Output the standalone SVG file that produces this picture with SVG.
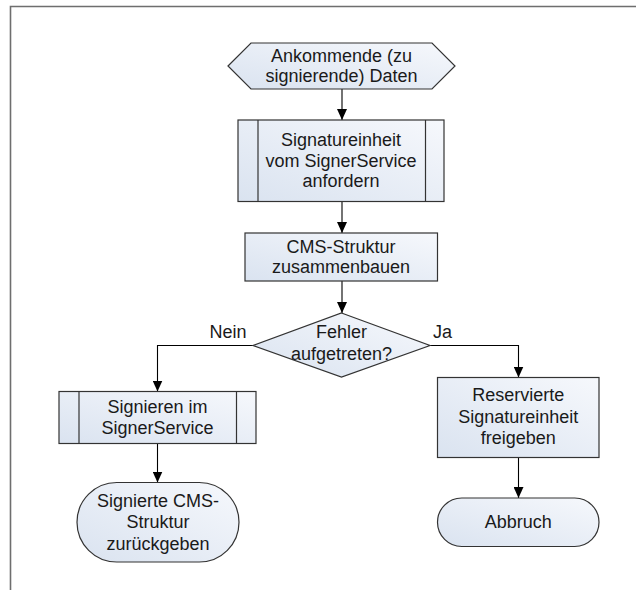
<svg xmlns="http://www.w3.org/2000/svg" width="636" height="590" viewBox="0 0 636 590">
<defs>
<linearGradient id="fill" x1="0" y1="1" x2="1" y2="0">
<stop offset="0" stop-color="#dae3f0"/>
<stop offset="1" stop-color="#f6f8fc"/>
</linearGradient>
<marker id="arr" markerUnits="userSpaceOnUse" markerWidth="11" markerHeight="10" refX="11" refY="5" orient="auto">
<path d="M0,0 L11,5 L0,10 z" fill="#000"/>
</marker>
</defs>
<style>
.shape{fill:url(#fill);stroke:#333;stroke-width:1.2}
.inner{fill:none;stroke:#333;stroke-width:1.2}
.conn{fill:none;stroke:#000;stroke-width:1.1}
text{font-family:"Liberation Sans",Arial,sans-serif;font-size:18px;fill:#1a1a1a;text-anchor:middle}
</style>
<path d="M10.5,590 V6.5 H636" fill="none" stroke="#6e6e6e" stroke-width="1.6"/>
<g id="connectors">
<line class="conn" x1="342" y1="89" x2="342" y2="120" marker-end="url(#arr)"/>
<line class="conn" x1="342" y1="201.5" x2="342" y2="233" marker-end="url(#arr)"/>
<line class="conn" x1="342" y1="281" x2="342" y2="313" marker-end="url(#arr)"/>
<polyline class="conn" points="253,345.5 157.5,345.5 157.5,391.5" marker-end="url(#arr)"/>
<polyline class="conn" points="430,345.5 518.5,345.5 518.5,377.5" marker-end="url(#arr)"/>
<line class="conn" x1="157.5" y1="443.5" x2="157.5" y2="482.5" marker-end="url(#arr)"/>
<line class="conn" x1="518.5" y1="457.5" x2="518.5" y2="498" marker-end="url(#arr)"/>
<text x="228" y="338">Nein</text>
<text x="442.5" y="338">Ja</text>
</g>
<g id="start">
<polygon class="shape" points="228,66 251,43 432,43 455,66 432,89 251,89"/>
<text x="341.5" y="61.5">Ankommende (zu</text>
<text x="341.5" y="82">signierende) Daten</text>
</g>
<g id="request">
<rect class="shape" x="238" y="120" width="206" height="81.5"/>
<line class="inner" x1="258" y1="120" x2="258" y2="201.5"/>
<line class="inner" x1="425.5" y1="120" x2="425.5" y2="201.5"/>
<text x="341" y="146">Signatureinheit</text>
<text x="341" y="166.5">vom SignerService</text>
<text x="341" y="187">anfordern</text>
</g>
<g id="build">
<rect class="shape" x="245" y="233" width="192.5" height="48"/>
<text x="341" y="252.5">CMS-Struktur</text>
<text x="341" y="273">zusammenbauen</text>
</g>
<g id="decision">
<polygon class="shape" points="341.5,313 430,345.5 341.5,377 253,345.5"/>
<text x="341.5" y="338">Fehler</text>
<text x="341.5" y="360">aufgetreten?</text>
</g>
<g id="sign">
<rect class="shape" x="59" y="391.5" width="197" height="52"/>
<line class="inner" x1="79" y1="391.5" x2="79" y2="443.5"/>
<line class="inner" x1="236.5" y1="391.5" x2="236.5" y2="443.5"/>
<text x="157.5" y="413">Signieren im</text>
<text x="157.5" y="434">SignerService</text>
</g>
<g id="return">
<rect class="shape" x="77" y="482.5" width="162" height="79.5" rx="39.75" ry="39.75"/>
<text x="158" y="507">Signierte CMS-</text>
<text x="158" y="528">Struktur</text>
<text x="158" y="549.5">zurückgeben</text>
</g>
<g id="release">
<rect class="shape" x="437.5" y="377.5" width="161.5" height="80"/>
<text x="518.3" y="401">Reservierte</text>
<text x="518.3" y="423">Signatureinheit</text>
<text x="518.3" y="444">freigeben</text>
</g>
<g id="abort">
<rect class="shape" x="437.5" y="498" width="161.5" height="48.5" rx="24.25" ry="24.25"/>
<text x="518.3" y="527.5">Abbruch</text>
</g>
</svg>
